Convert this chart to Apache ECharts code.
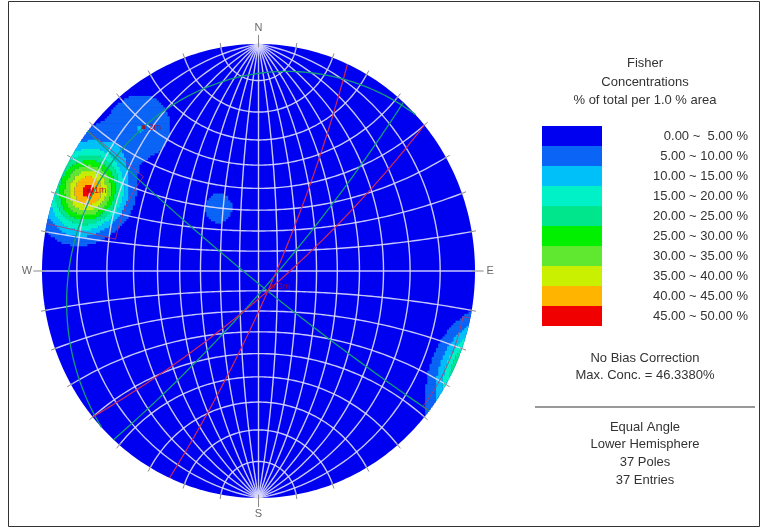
<!DOCTYPE html>
<html>
<head>
<meta charset="utf-8">
<title>Fisher Concentrations</title>
<script src="https://cdn.jsdelivr.net/npm/echarts@6/dist/echarts.min.js"></script>
<style>
html,body{margin:0;padding:0;background:#ffffff;}
#chart{width:762px;height:528px;}
</style>
</head>
<body>
<div id="chart"></div>
<script>
// ---------- data ----------
// poles as [trend, plunge] in degrees, lower hemisphere
const setOnePoles = [
  [294, 8], [293, 9], [295, 7], [296, 10], [292, 7], [294, 11], [297, 8], [291, 10],
  [299, 9], [289, 8], [294, 13], [294, 4], [298, 12], [290, 5], [298, 5], [290, 12],
  [303, 8], [285, 9], [294, 17], [294, 3], [300, 15], [287, 5], [301, 4]
];
const setTwoPoles = [[320, 10], [315, 12], [326, 9], [321, 18], [318, 5]];
const setThreePoles = [[112, 81], [152, 76]];
const minorGroupPoles = [[325, 53], [328, 52], [326, 55]];
const otherPoles = [[70, 35], [205, 40], [245, 25], [15, 62]];

const setLabels = ['1m', '2m', '3m'];

// set 1 window: trend range and plunge range (negative plunge wraps past the primitive)
const setOneWindow = { trend: [282, 308], plunge: [-2, 22] };

// further planes as [dip direction, dip]
const userPlanes = [[132, 82], [218, 85]];

// contour classes
const contourLabels = [
  '0.00 ~  5.00 %', '5.00 ~ 10.00 %', '10.00 ~ 15.00 %', '15.00 ~ 20.00 %', '20.00 ~ 25.00 %',
  '25.00 ~ 30.00 %', '30.00 ~ 35.00 %', '35.00 ~ 40.00 %', '40.00 ~ 45.00 %', '45.00 ~ 50.00 %'
];
const contourColors = [
  '#0000f0', '#0a64f5', '#00c0fa', '#00f0c8', '#00e68c',
  '#00f000', '#60e830', '#c8f000', '#ffb400', '#f00000'
];
const contourStep = 5;
const maxConc = 46.3380;

const cardinalLabels = ['N', 'E', 'S', 'W'];
const cardinalAzimuths = [0, 90, 180, 270];
const netSpacing = 10;

// ---------- stereographic helpers (x east, y north, z down) ----------
const RAD = Math.PI / 180;
function toVec(trend, plunge) {
  const c = Math.cos(plunge * RAD);
  return [c * Math.sin(trend * RAD), c * Math.cos(trend * RAD), Math.sin(plunge * RAD)];
}
function project(v) {
  let x = v[0], y = v[1], z = v[2];
  if (z < 0) { x = -x; y = -y; z = -z; }
  return [x / (1 + z), y / (1 + z)];
}
// sample a path on the sphere, splitting it where it crosses the primitive
function tracePath(fn, count) {
  const parts = [];
  let cur = [], prev = null;
  for (let i = 0; i <= count; i++) {
    const v = fn(i / count);
    const s = v[2] >= 0 ? 1 : -1;
    if (prev !== null && s !== prev) {
      if (cur.length > 1) parts.push(cur);
      cur = [];
    }
    cur.push(project(v));
    prev = s;
  }
  if (cur.length > 1) parts.push(cur);
  return parts;
}
function planeCircle(dipDir, dip) {
  const s = [Math.sin((dipDir - 90) * RAD), Math.cos((dipDir - 90) * RAD), 0];
  const d = [Math.cos(dip * RAD) * Math.sin(dipDir * RAD), Math.cos(dip * RAD) * Math.cos(dipDir * RAD), Math.sin(dip * RAD)];
  const pts = [];
  for (let i = 0; i <= 160; i++) {
    const a = i / 160 * Math.PI;
    pts.push(project([Math.cos(a) * s[0] + Math.sin(a) * d[0], Math.cos(a) * s[1] + Math.sin(a) * d[1], Math.sin(a) * d[2]]));
  }
  return pts;
}
function meanPole(poles) {
  const ref = toVec(poles[0][0], poles[0][1]);
  const m = [0, 0, 0];
  poles.forEach(p => {
    const v = toVec(p[0], p[1]);
    const sgn = v[0] * ref[0] + v[1] * ref[1] + v[2] * ref[2] < 0 ? -1 : 1;
    m[0] += sgn * v[0]; m[1] += sgn * v[1]; m[2] += sgn * v[2];
  });
  const len = Math.hypot(m[0], m[1], m[2]);
  let v = m.map(c => c / len);
  if (v[2] < 0) v = v.map(c => -c);
  let trend = Math.atan2(v[0], v[1]) / RAD;
  if (trend < 0) trend += 360;
  return [trend, Math.asin(v[2]) / RAD];
}

// ---------- net lines ----------
const netLines = [];
for (let phi = netSpacing; phi < 180; phi += netSpacing) {
  const pts = [];
  for (let i = 0; i <= 120; i++) {
    const t = i / 120 * Math.PI;
    pts.push(project([Math.sin(t) * Math.cos(phi * RAD), Math.cos(t), Math.sin(t) * Math.sin(phi * RAD)]));
  }
  netLines.push({ coords: pts });
}
for (let beta = netSpacing; beta < 180; beta += netSpacing) {
  const pts = [];
  for (let i = 0; i <= 120; i++) {
    const s = i / 120 * Math.PI;
    pts.push(project([Math.sin(beta * RAD) * Math.cos(s), Math.cos(beta * RAD), Math.sin(beta * RAD) * Math.sin(s)]));
  }
  netLines.push({ coords: pts });
}
// azimuth ticks on the primitive
const tickLines = [];
for (let az = 0; az < 360; az += netSpacing) {
  const major = cardinalAzimuths.indexOf(az) >= 0;
  const r0 = major ? 0.985 : 0.99, r1 = major ? 1.04 : 1.02;
  tickLines.push({ coords: [[r0 * Math.sin(az * RAD), r0 * Math.cos(az * RAD)], [r1 * Math.sin(az * RAD), r1 * Math.cos(az * RAD)]] });
}

// ---------- density (axial Fisher kernel, % of total per 1 % area) ----------
const allPoles = [].concat(setOnePoles, setTwoPoles, setThreePoles, minorGroupPoles, otherPoles);
const nPoles = allPoles.length;
const kappa = 80;
const poleVecs = allPoles.map(p => toVec(p[0], p[1]));
const cell = 0.01;
const nCells = Math.round(2 / cell);
function densityAt(x, y) {
  let r2 = x * x + y * y;
  if (r2 > 1) { const r = Math.sqrt(r2); x /= r; y /= r; r2 = 1; }
  const v = [2 * x / (1 + r2), 2 * y / (1 + r2), (1 - r2) / (1 + r2)];
  let sum = 0;
  for (const p of poleVecs) {
    const c = Math.abs(v[0] * p[0] + v[1] * p[1] + v[2] * p[2]);
    sum += Math.exp(kappa * (c - 1));
  }
  return sum * kappa / nPoles;
}
const rawGrid = [];
let rawMax = 0;
for (let j = 0; j < nCells; j++) {
  const y = -1 + (j + 0.5) * cell;
  const row = [];
  for (let i = 0; i < nCells; i++) {
    const x = -1 + (i + 0.5) * cell;
    if (x * x + y * y > (1 + cell) * (1 + cell)) { row.push(null); continue; }
    const d = densityAt(x, y);
    if (d > rawMax) rawMax = d;
    row.push(d);
  }
  rawGrid.push(row);
}
// scale so the grid peak reports the stated maximum concentration
const scale = maxConc / rawMax;
const runs = [];
for (let j = 0; j < nCells; j++) {
  const y = -1 + (j + 0.5) * cell;
  const half = Math.sqrt(Math.max(0, 1 - y * y));
  let start = -1, lvl = 0;
  const flush = (endIdx) => {
    if (start >= 0 && lvl > 0) {
      const x0 = Math.max(-half, -1 + start * cell);
      const x1 = Math.min(half, -1 + endIdx * cell);
      if (x1 > x0) runs.push([x0, x1, y, lvl]);
    }
  };
  for (let i = 0; i <= nCells; i++) {
    const d = i < nCells ? rawGrid[j][i] : null;
    const l = d == null ? 0 : Math.min(contourColors.length - 1, Math.floor(d * scale / contourStep));
    if (l !== lvl) { flush(i); start = i; lvl = l; }
  }
}

// ---------- set windows, mean poles, planes ----------
function windowOutline(w) {
  const [t1, t2] = w.trend, [p1, p2] = w.plunge;
  const seq = [];
  const n = 40;
  for (let i = 0; i <= n; i++) seq.push([t1 + (t2 - t1) * i / n, p2]);
  for (let i = 1; i <= n; i++) seq.push([t2, p2 + (p1 - p2) * i / n]);
  for (let i = 1; i <= n; i++) seq.push([t2 + (t1 - t2) * i / n, p1]);
  for (let i = 1; i <= n; i++) seq.push([t1, p1 + (p2 - p1) * i / n]);
  return tracePath(f => {
    const k = Math.min(seq.length - 1, Math.round(f * (seq.length - 1)));
    return toVec(seq[k][0], seq[k][1]);
  }, seq.length - 1).map(c => ({ coords: c }));
}
const windowLines = windowOutline(setOneWindow);

const setMeans = [setOnePoles, setTwoPoles, setThreePoles].map(meanPole);
const meanPoints = setMeans.map((m, i) => {
  const p = project(toVec(m[0], m[1]));
  return [p[0], p[1], setLabels[i]];
});
const redPlanes = setMeans.slice(0, 2).map(m => ({ coords: planeCircle((m[0] + 180) % 360, 90 - m[1]) }));
const greenPlanes = [{ coords: planeCircle((setMeans[2][0] + 180) % 360, 90 - setMeans[2][1]) }]
  .concat(userPlanes.map(p => ({ coords: planeCircle(p[0], p[1]) })));

const cardinalPoints = cardinalAzimuths.map((az, i) => {
  const r = 1.07;
  return [r * Math.sin(az * RAD), r * Math.cos(az * RAD), cardinalLabels[i]];
});

// ---------- chart ----------
const FONT = 'Liberation Sans, Arial, sans-serif';
const sideText = (text, y) => ({
  type: 'text', silent: true,
  style: { text: text, x: 645, y: y, align: 'center', verticalAlign: 'middle', fill: '#333', font: '13px ' + FONT }
});
const chart = echarts.init(document.getElementById('chart'));
chart.setOption({
  animation: false,
  backgroundColor: '#ffffff',
  grid: [
    { left: 42, top: 44, width: 433, height: 454 },
    { left: 542, top: 126, width: 60, height: 200 }
  ],
  xAxis: [
    { gridIndex: 0, type: 'value', min: -1, max: 1, show: false },
    { gridIndex: 1, type: 'value', min: 0, max: 1, show: false }
  ],
  yAxis: [
    { gridIndex: 0, type: 'value', min: -1, max: 1, show: false },
    {
      gridIndex: 1, type: 'category', data: contourLabels, inverse: true, position: 'right',
      axisLine: { show: false }, axisTick: { show: false }, splitLine: { show: false },
      axisLabel: { align: 'right', margin: 146, fontSize: 13, color: '#333', fontFamily: FONT }
    }
  ],
  graphic: [
    { type: 'rect', shape: { x: 8.5, y: 1.5, width: 751, height: 525 }, style: { fill: 'none', stroke: '#333', lineWidth: 1 }, silent: true },
    sideText('Fisher', 63),
    sideText('Concentrations', 82),
    sideText('% of total per 1.0 % area', 100),
    sideText('No Bias Correction', 358),
    sideText('Max. Conc. = ' + maxConc.toFixed(4) + '%', 375),
    { type: 'line', silent: true, shape: { x1: 535, y1: 407, x2: 755, y2: 407 }, style: { stroke: '#999', lineWidth: 2 } },
    sideText('Equal Angle', 427),
    sideText('Lower Hemisphere', 444),
    sideText(nPoles + ' Poles', 462),
    sideText(nPoles + ' Entries', 480)
  ],
  series: [
    {
      // base disc of the projection (lowest contour class)
      type: 'custom', xAxisIndex: 0, yAxisIndex: 0, silent: true, z: 1,
      data: [[0, 0]],
      renderItem: (params, api) => {
        const pts = [];
        for (let i = 0; i < 360; i++) pts.push(api.coord([Math.sin(i * RAD), Math.cos(i * RAD)]));
        return { type: 'polygon', shape: { points: pts }, style: { fill: contourColors[0] } };
      }
    },
    {
      // density classes, drawn as horizontal runs of grid cells
      type: 'custom', xAxisIndex: 0, yAxisIndex: 0, silent: true, z: 2,
      data: runs,
      encode: { x: [0, 1], y: 2 },
      renderItem: (params, api) => {
        const a = api.coord([api.value(0), api.value(2) + cell / 2]);
        const b = api.coord([api.value(1), api.value(2) - cell / 2]);
        return {
          type: 'rect',
          shape: { x: a[0], y: a[1] - 0.3, width: b[0] - a[0], height: b[1] - a[1] + 0.6 },
          style: { fill: contourColors[api.value(3)] }
        };
      }
    },
    {
      type: 'lines', coordinateSystem: 'cartesian2d', xAxisIndex: 0, yAxisIndex: 0, polyline: true, silent: true, z: 3, clip: false,
      data: netLines, lineStyle: { color: '#dcdcff', width: 1.4, opacity: 0.9 }
    },
    {
      type: 'lines', coordinateSystem: 'cartesian2d', xAxisIndex: 0, yAxisIndex: 0, polyline: true, silent: true, z: 3, clip: false,
      data: tickLines, lineStyle: { color: '#8a8a8a', width: 1, opacity: 1 }
    },
    {
      type: 'lines', coordinateSystem: 'cartesian2d', xAxisIndex: 0, yAxisIndex: 0, polyline: true, silent: true, z: 4,
      data: greenPlanes, lineStyle: { color: '#109c78', width: 1.3, opacity: 1 }
    },
    {
      type: 'lines', coordinateSystem: 'cartesian2d', xAxisIndex: 0, yAxisIndex: 0, polyline: true, silent: true, z: 4,
      data: redPlanes, lineStyle: { color: '#d02858', width: 1.2, opacity: 1 }
    },
    {
      type: 'lines', coordinateSystem: 'cartesian2d', xAxisIndex: 0, yAxisIndex: 0, polyline: true, silent: true, z: 4,
      data: windowLines, lineStyle: { color: '#c83060', width: 1, opacity: 0.8 }
    },
    {
      type: 'scatter', xAxisIndex: 0, yAxisIndex: 0, silent: true, z: 5,
      data: meanPoints, symbol: 'rect', symbolSize: 4, itemStyle: { color: '#b00020' },
      label: { show: true, position: 'right', distance: 3, formatter: p => p.value[2], color: '#b00020', fontSize: 9, fontFamily: FONT }
    },
    {
      type: 'scatter', xAxisIndex: 0, yAxisIndex: 0, silent: true, z: 5, clip: false,
      data: cardinalPoints, symbolSize: 0,
      label: { show: true, position: 'inside', formatter: p => p.value[2], color: '#444', fontSize: 11, fontFamily: FONT }
    },
    {
      // contour class key
      type: 'bar', xAxisIndex: 1, yAxisIndex: 1, silent: true, barWidth: '100%',
      data: contourColors.map(c => ({ value: 1, itemStyle: { color: c } }))
    }
  ]
});
</script>
</body>
</html>
